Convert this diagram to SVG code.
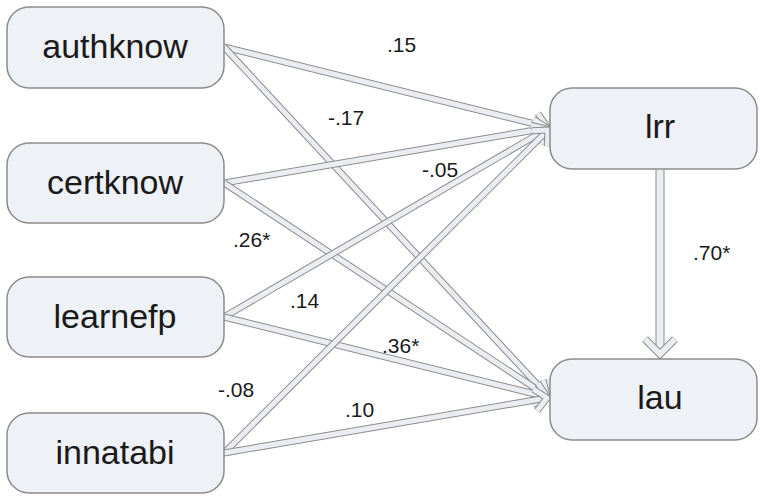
<svg xmlns="http://www.w3.org/2000/svg" xmlns:xlink="http://www.w3.org/1999/xlink" width="760" height="496" viewBox="0 0 760 496">
<style>
.box{fill:#eef1f6;stroke:#8c8c8c;stroke-width:1.5}
.nt{font-family:"Liberation Sans",Arial,sans-serif;font-size:34px;fill:#1a1a1a;text-anchor:middle}
.lb{font-family:"Liberation Sans",Arial,sans-serif;font-size:21px;fill:#1a1a1a}
.o{fill:none;stroke:#8c8c8c;stroke-width:7}
.i{fill:none;stroke:#eaedf2;stroke-width:5}
</style>
<defs>
<marker id="ah" markerUnits="userSpaceOnUse" viewBox="-20 -16 26 32" markerWidth="26" markerHeight="32" refX="0" refY="0" orient="auto" overflow="visible">
<path d="M-12,-11 L0,0 L-12,11" fill="none" stroke="#8c8c8c" stroke-width="7" stroke-linejoin="miter"/>
<path d="M-12,-11 L0,0 L-12,11" fill="none" stroke="#eaedf2" stroke-width="5" stroke-linejoin="miter"/>
</marker>
<marker id="ahv" markerUnits="userSpaceOnUse" viewBox="-24 -20 30 40" markerWidth="30" markerHeight="40" refX="0" refY="0" orient="auto" overflow="visible">
<path d="M-15,-15 L0,0 L-15,15" fill="none" stroke="#8c8c8c" stroke-width="8" stroke-linejoin="miter"/>
<path d="M-15,-15 L0,0 L-15,15" fill="none" stroke="#eaedf2" stroke-width="6" stroke-linejoin="miter"/>
</marker>
</defs>
<g id="connectors">
<g><path class="o" d="M224,47 L547,127"/><path class="i" d="M224,47 L547,127" marker-end="url(#ah)"/></g>
<g><path class="o" d="M224,47 L548,396"/><path class="i" d="M224,47 L548,396" marker-end="url(#ah)"/></g>
<g><path class="o" d="M224,183 L547,128"/><path class="i" d="M224,183 L547,128" marker-end="url(#ah)"/></g>
<g><path class="o" d="M224,183 L547,396"/><path class="i" d="M224,183 L547,396" marker-end="url(#ah)"/></g>
<g><path class="o" d="M224,317 L547,129"/><path class="i" d="M224,317 L547,129" marker-end="url(#ah)"/></g>
<g><path class="o" d="M224,317 L547,397"/><path class="i" d="M224,317 L547,397" marker-end="url(#ah)"/></g>
<g><path class="o" d="M224,453 L548,130"/><path class="i" d="M224,453 L548,130" marker-end="url(#ah)"/></g>
<g><path class="o" d="M224,453 L547,398"/><path class="i" d="M224,453 L547,398" marker-end="url(#ah)"/></g>
<g><path class="o" style="stroke-width:9" d="M660,170 L660,354"/><path class="i" style="stroke-width:7" d="M660,170 L660,354" marker-end="url(#ahv)"/></g>
</g>
<g id="labels">
<text class="lb" x="387" y="52">.15</text>
<text class="lb" x="328" y="125">-.17</text>
<text class="lb" x="422" y="177">-.05</text>
<text class="lb" x="233" y="247">.26*</text>
<text class="lb" x="290" y="308">.14</text>
<text class="lb" x="382" y="353">.36*</text>
<text class="lb" x="218" y="397">-.08</text>
<text class="lb" x="345" y="417">.10</text>
<text class="lb" x="693" y="260">.70*</text>
</g>
<g id="authknow"><rect class="box" x="7" y="7" width="217" height="81" rx="22"/><text class="nt" x="115" y="58">authknow</text></g>
<g id="certknow"><rect class="box" x="7" y="143" width="217" height="80" rx="22"/><text class="nt" x="115" y="194">certknow</text></g>
<g id="learnefp"><rect class="box" x="7" y="277" width="217" height="80" rx="22"/><text class="nt" x="115" y="328">learnefp</text></g>
<g id="innatabi"><rect class="box" x="7" y="413" width="217" height="80" rx="22"/><text class="nt" x="115" y="464">innatabi</text></g>
<g id="lrr"><rect class="box" x="550" y="88" width="207" height="81" rx="22"/><text class="nt" x="660" y="138">lrr</text></g>
<g id="lau"><rect class="box" x="550" y="359" width="207" height="81" rx="22"/><text class="nt" x="660" y="409">lau</text></g>
</svg>
